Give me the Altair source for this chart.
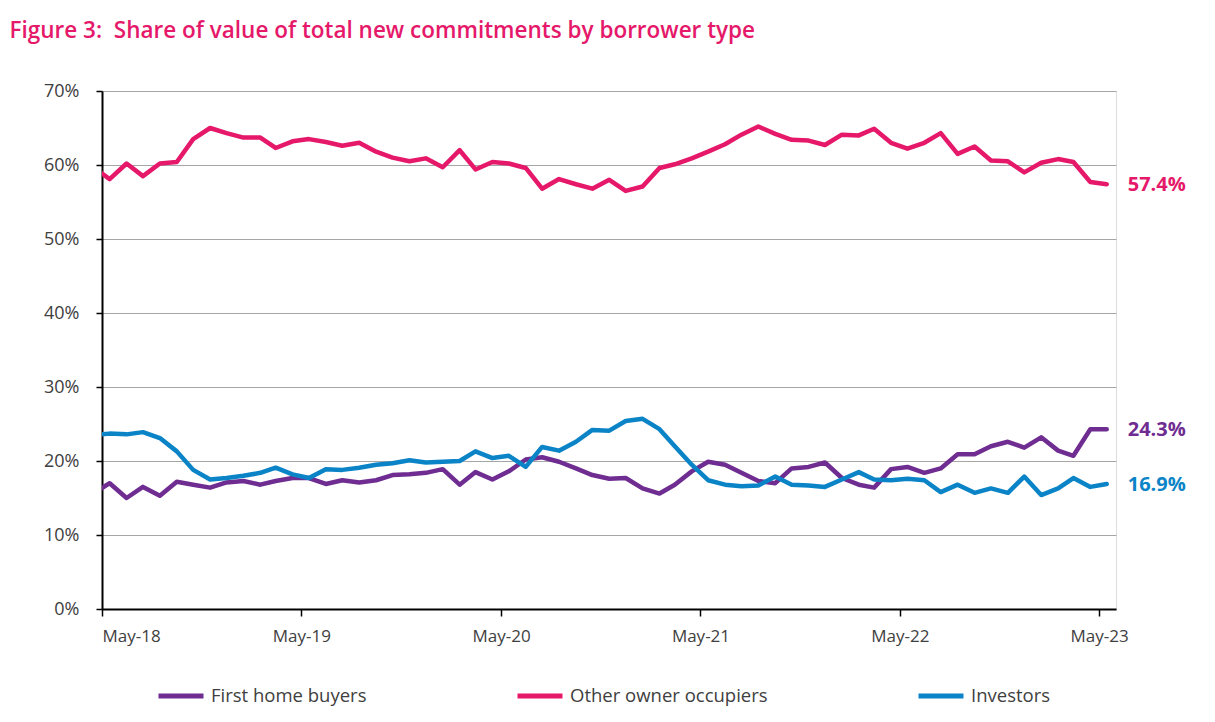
import altair as alt
import pandas as pd

# Monthly observations (mid-month), Apr-18 (clipped at the axis) to May-23
dates = []
y, m = 2018, 4
for _ in range(62):
    dates.append(f"{y}-{m:02d}-15")
    m += 1
    if m > 12:
        m = 1
        y += 1

series_names = ["First home buyers", "Other owner occupiers", "Investors"]
series_colors = ["#6f2c91", "#e5186a", "#0a84c6"]

first_home_buyers = [
    15.6,
    17.0, 15.0, 16.5, 15.3, 17.2, 16.8, 16.4, 17.1, 17.3, 16.8,
    17.3, 17.7, 17.7, 16.9, 17.4, 17.1, 17.4, 18.1, 18.2, 18.4,
    18.9, 16.8, 18.5, 17.5, 18.6, 20.2, 20.5, 19.9, 19.0, 18.1,
    17.6, 17.7, 16.3, 15.6, 16.8, 18.6, 19.9, 19.5, 18.4, 17.3,
    17.0, 19.0, 19.2, 19.8, 17.7, 16.8, 16.4, 18.9, 19.2, 18.4,
    19.0, 20.9, 20.9, 22.0, 22.6, 21.8, 23.2, 21.4, 20.7, 24.3,
    24.3,
]
other_owner_occupiers = [
    59.7,
    58.1, 60.2, 58.5, 60.2, 60.4, 63.5, 65.0, 64.3, 63.7, 63.7,
    62.3, 63.2, 63.5, 63.1, 62.6, 63.0, 61.8, 61.0, 60.5, 60.9,
    59.7, 62.0, 59.4, 60.4, 60.2, 59.6, 56.8, 58.1, 57.4, 56.8,
    58.0, 56.5, 57.1, 59.6, 60.1, 60.9, 61.8, 62.8, 64.1, 65.2,
    64.2, 63.4, 63.3, 62.7, 64.1, 64.0, 64.9, 63.0, 62.2, 63.0,
    64.3, 61.5, 62.5, 60.6, 60.5, 59.0, 60.3, 60.8, 60.4, 57.7,
    57.4,
]
investors = [
    23.5,
    23.7, 23.6, 23.9, 23.1, 21.3, 18.8, 17.5, 17.7, 18.0, 18.4,
    19.1, 18.2, 17.7, 18.9, 18.8, 19.1, 19.5, 19.7, 20.1, 19.8,
    19.9, 20.0, 21.3, 20.4, 20.7, 19.2, 21.9, 21.4, 22.6, 24.2,
    24.1, 25.4, 25.7, 24.3, 22.0, 19.5, 17.4, 16.8, 16.6, 16.7,
    17.9, 16.8, 16.7, 16.5, 17.5, 18.5, 17.5, 17.4, 17.6, 17.4,
    15.8, 16.8, 15.7, 16.3, 15.7, 17.9, 15.4, 16.3, 17.7, 16.5,
    16.9,
]
end_labels = ["24.3%", "57.4%", "16.9%"]
y_ticks = [0, 10, 20, 30, 40, 50, 60, 70]
x_tick_years = [2018, 2019, 2020, 2021, 2022, 2023]

rows = []
for name, vals in zip(series_names, [first_home_buyers, other_owner_occupiers, investors]):
    for d, v in zip(dates, vals):
        rows.append({"date": d, "series": name, "value": v})
df = pd.DataFrame(rows)

last = pd.DataFrame({
    "date": [dates[-1]] * 3,
    "series": series_names,
    "value": [first_home_buyers[-1], other_owner_occupiers[-1], investors[-1]],
    "label": end_labels,
})

FONT = "Open Sans"
TXT = "#404040"

color_scale = alt.Scale(domain=series_names, range=series_colors)

x_enc = alt.X(
    "date:T",
    scale=alt.Scale(
        type="utc",
        domain=[alt.DateTime(year=2018, month=5, date=1, utc=True),
                alt.DateTime(year=2023, month=6, date=1, utc=True)],
    ),
    axis=alt.Axis(
        values=[alt.DateTime(year=yy, month=5, date=1, utc=True) for yy in x_tick_years],
        format="%b-%y",
        title=None,
        grid=False,
        domainColor="black",
        domainWidth=2,
        tickColor="black",
        tickWidth=1.5,
        tickSize=7,
        labelPadding=12,
        labelFontSize=17,
        labelFont=FONT,
        labelColor=TXT,
        zindex=1,
    ),
)
y_enc = alt.Y(
    "value:Q",
    scale=alt.Scale(domain=[0, 70], nice=False),
    axis=alt.Axis(
        values=y_ticks,
        labelExpr="datum.value + '%'",
        title=None,
        grid=True,
        gridColor="#a6a6a6",
        gridWidth=1,
        domainColor="black",
        domainWidth=2,
        tickColor="black",
        tickWidth=1.5,
        tickSize=6,
        labelPadding=17,
        labelFontSize=18,
        labelFont=FONT,
        labelColor=TXT,
    ),
)

lines = alt.Chart(df).mark_line(
    strokeWidth=4.5, strokeJoin="round", strokeCap="round", clip=True
).encode(
    x=x_enc,
    y=y_enc,
    color=alt.Color(
        "series:N",
        scale=color_scale,
        sort=series_names,
        legend=alt.Legend(
            orient="none",
            legendX=54,
            legendY=580,
            direction="horizontal",
            title=None,
            symbolType="stroke",
            symbolSize=2025,
            symbolStrokeWidth=5,
            labelFont=FONT,
            labelFontSize=18.5,
            labelColor=TXT,
            labelOffset=5,
            labelLimit=400,
            columnPadding=140,
            padding=0,
        ),
    ),
    detail="series:N",
)

labels = alt.Chart(last).mark_text(
    align="left", baseline="middle", dx=21, dy=1, fontSize=20, fontWeight="bold", font=FONT
).encode(
    x=alt.X("date:T"),
    y=alt.Y("value:Q"),
    text="label:N",
    color=alt.Color("series:N", scale=color_scale, legend=None),
)

chart = alt.layer(lines, labels).properties(
    width=1014,
    height=518,
    autosize=alt.AutoSizeParams(type="none"),
    padding={"left": 94, "top": 83, "right": 85, "bottom": 100},
    title=alt.TitleParams(
        text="Figure 3:\u00a0 Share of value of total new commitments by borrower type",
        anchor="start",
        font=FONT,
        fontSize=22.5,
        fontWeight=600,
        color="#e5186a",
        dx=-34,
        offset=40,
    ),
).configure_view(stroke=None).configure(background="white")

chart.save("out.html", embed_options={"renderer": "svg", "actions": False})
